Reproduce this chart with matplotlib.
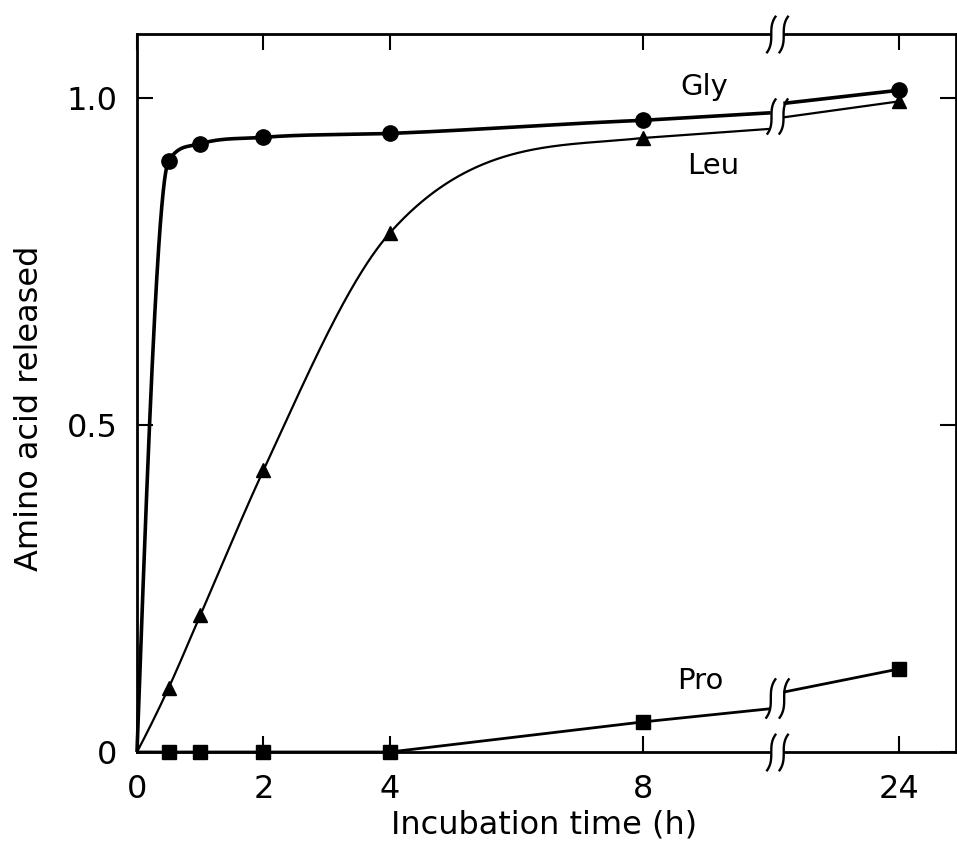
import numpy as np
import matplotlib
matplotlib.use("Agg")
import matplotlib.pyplot as plt
from matplotlib.path import Path

# ---------------- data ----------------
time_h = [0, 0.5, 1, 2, 4, 8, 24]
gly = [0.0, 0.904, 0.930, 0.940, 0.946, 0.966, 1.012]
leu = [0.0, 0.098, 0.209, 0.431, 0.794, 0.939, 0.995]
pro = [0.0, 0.0, 0.0, 0.0, 0.0, 0.046, 0.127]
xtick_vals = [0, 2, 4, 8, 24]
xtick_labels = ["0", "2", "4", "8", "24"]
ytick_vals = [0, 0.5, 1.0]
ytick_labels = ["0", "0.5", "1.0"]
series_names = ["Gly", "Leu", "Pro"]

# broken time axis: real hours -> drawn position
knot_real = [-10.0, 8.0, 12.0, 17.0, 24.0, 60.0]
knot_disp = [-10.0, 8.0, 10.02, 10.22, 12.05, 12.05 + 36 * (1.83 / 7)]
gap_lo, gap_hi = 12.0, 17.0


def fwd(t):
    return np.interp(t, knot_real, knot_disp)


def inv(d):
    return np.interp(d, knot_disp, knot_real)


def monotone_curve(x, y, xs):
    """Monotone cubic Hermite curve (parabolic slopes, Fritsch-Carlson limited)."""
    x = np.asarray(x, float)
    y = np.asarray(y, float)
    h = np.diff(x)
    m = np.diff(y) / h
    n = len(x)
    d = np.zeros(n)
    for k in range(1, n - 1):
        if m[k - 1] * m[k] <= 0:
            d[k] = 0.0
        else:
            dk = (h[k] * m[k - 1] + h[k - 1] * m[k]) / (h[k - 1] + h[k])
            d[k] = np.sign(dk) * min(abs(dk), 3 * abs(m[k - 1]), 3 * abs(m[k]))

    def end(h0, h1, m0, m1):
        dd = ((2 * h0 + h1) * m0 - h0 * m1) / (h0 + h1)
        if np.sign(dd) != np.sign(m0):
            dd = 0.0
        elif abs(dd) > abs(3 * m0):
            dd = 3 * m0
        return dd

    d[0] = end(h[0], h[1], m[0], m[1])
    d[-1] = end(h[-1], h[-2], m[-1], m[-2])
    xs = np.asarray(xs, float)
    idx = np.clip(np.searchsorted(x, xs) - 1, 0, n - 2)
    s = (xs - x[idx]) / h[idx]
    h00 = 2 * s**3 - 3 * s**2 + 1
    h10 = s**3 - 2 * s**2 + s
    h01 = -2 * s**3 + 3 * s**2
    h11 = s**3 - s**2
    return (h00 * y[idx] + h10 * h[idx] * d[idx]
            + h01 * y[idx + 1] + h11 * h[idx] * d[idx + 1])


plt.rcParams["font.family"] = ["DejaVu Sans"]

fig = plt.figure(figsize=(9.57, 8.52), dpi=100)
ax = fig.add_axes([137 / 957, 100 / 852, 819 / 957, 718 / 852])
ax.set_xscale("function", functions=(fwd, inv))
ax.set_xlim(0, inv(12.95))
ax.set_ylim(0, 1.098)

t = np.asarray(time_h, float)
t_early = t[t <= 8]


def broken_line(vals, smooth, lw):
    v = np.asarray(vals, float)
    n_e = len(t_early)
    # the line heads straight for the 24 h point, interrupted by the axis break
    y_lo = np.interp(gap_lo, t, v)
    y_hi = np.interp(gap_hi, t, v)
    if smooth:
        knots_x = np.append(t_early, gap_lo)
        knots_y = np.append(v[:n_e], y_lo)
        xs = np.linspace(0, t_early[-1], 1000)
        ys = monotone_curve(knots_x, knots_y, xs)
    else:
        xs, ys = t_early, v[:n_e]
    ax.plot(np.append(xs, gap_lo), np.append(ys, y_lo), color="black",
            lw=lw, clip_on=False, zorder=3, solid_capstyle="butt")
    ax.plot([gap_hi, t[-1]], [y_hi, v[-1]], color="black", lw=lw,
            clip_on=False, zorder=3, solid_capstyle="butt")


broken_line(gly, True, 2.6)
broken_line(leu, True, 1.6)
broken_line(pro, False, 2.0)

ax.plot(t[1:], gly[1:], ls="none", marker="o", ms=11, color="black",
        clip_on=False, zorder=4)
ax.plot(t[1:], leu[1:], ls="none", marker="^", ms=10, color="black",
        clip_on=False, zorder=4)
ax.plot(t[1:], pro[1:], ls="none", marker="s", ms=9.4, color="black",
        clip_on=False, zorder=4)

# axis-break symbol (two S-shaped strokes)
s = np.linspace(-1, 1, 30)
verts = []
codes = []
for x0 in (-0.166, 0.166):
    xs_ = x0 + 0.13 * s**3
    ys_ = 0.5 * s
    for i, (a, b) in enumerate(zip(xs_, ys_)):
        verts.append((a, b))
        codes.append(Path.MOVETO if i == 0 else Path.LINETO)
break_path = Path(verts, codes)

t_break = inv(10.12)
ylo, yhi = ax.get_ylim()
for yy in (ylo, yhi):
    ax.plot([gap_lo, gap_hi], [yy, yy], color="white", lw=6,
            solid_capstyle="butt", clip_on=False, zorder=5)
    ax.plot([t_break], [yy], ls="none", marker=break_path, ms=27,
            mfc="none", mec="black", mew=1.7, clip_on=False, zorder=6)
ax.plot([t_break], [0.972], ls="none", marker=break_path, ms=26,
        mfc="none", mec="black", mew=1.7, zorder=6)
ax.plot([t_break], [0.083], ls="none", marker=break_path, ms=29,
        mfc="none", mec="black", mew=1.7, zorder=6)

# series labels
label_pos = [(0.693, 0.926), (0.703, 0.816), (0.688, 0.099)]
for name, (lx, ly) in zip(series_names, label_pos):
    ax.text(lx, ly, name, transform=ax.transAxes, ha="center", va="center",
            fontsize=21)

# ticks and spines
ax.set_xticks(xtick_vals)
ax.set_xticklabels(xtick_labels)
ax.set_yticks(ytick_vals)
ax.set_yticklabels(ytick_labels)
ax.minorticks_off()
ax.tick_params(axis="both", direction="in", top=True, right=True,
               length=11.5, width=1.5, labelsize=23)
ax.tick_params(axis="x", pad=16)
ax.tick_params(axis="y", pad=14)
for sp in ax.spines.values():
    sp.set_linewidth(2.0)

fig.text(544 / 957, 19 / 852, "Incubation time (h)", ha="center",
         va="baseline", fontsize=23)
fig.text(38 / 957, 1 - 408 / 852, "Amino acid released", rotation=90,
         rotation_mode="anchor", ha="center", va="baseline", fontsize=23)

fig.savefig("out.png", dpi=100)
